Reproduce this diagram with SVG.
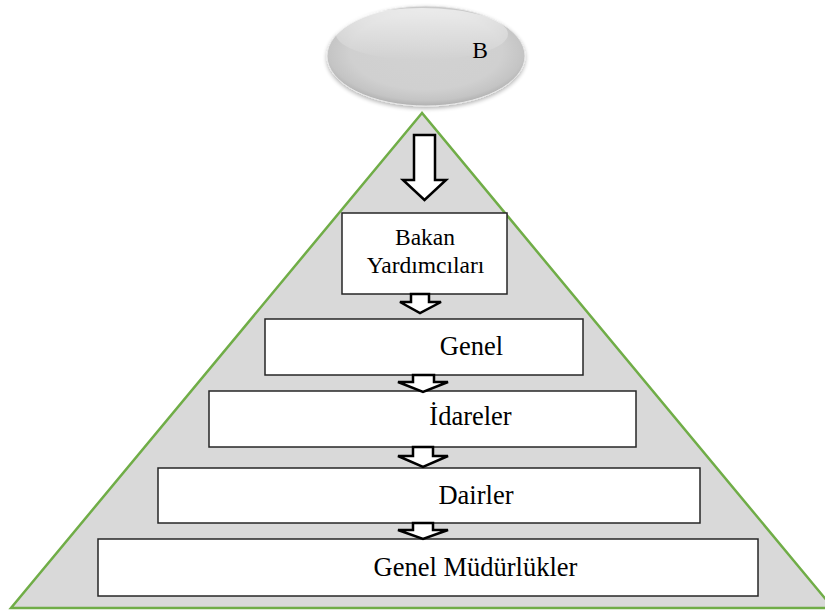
<svg xmlns="http://www.w3.org/2000/svg" width="825" height="613" viewBox="0 0 825 613">
<defs>
<radialGradient id="gEll" cx="0.5" cy="0.45" r="0.55">
<stop offset="0" stop-color="#d2d2d2"/>
<stop offset="0.7" stop-color="#d0d0d0"/>
<stop offset="0.9" stop-color="#c4c4c4"/>
<stop offset="1" stop-color="#b0b0b0"/>
</radialGradient>
<linearGradient id="gHi" x1="0" y1="0" x2="0" y2="1">
<stop offset="0" stop-color="#ffffff" stop-opacity="0.6"/>
<stop offset="1" stop-color="#ffffff" stop-opacity="0"/>
</linearGradient>
<filter id="sh" x="-20%" y="-20%" width="140%" height="150%">
<feGaussianBlur in="SourceAlpha" stdDeviation="2"/>
<feOffset dy="2"/>
<feComponentTransfer><feFuncA type="linear" slope="0.3"/></feComponentTransfer>
<feMerge><feMergeNode/><feMergeNode in="SourceGraphic"/></feMerge>
</filter>
</defs>
<style>
.tri{fill:#d9d9d9;stroke:#70ad47;stroke-width:2.5}
.box{fill:#ffffff;stroke:#262626;stroke-width:1.5}
.arr{fill:#ffffff;stroke:#000000;stroke-width:2.5;stroke-linejoin:miter}
.t{font-family:"Liberation Serif","Times New Roman",serif;fill:#000000;text-anchor:middle}
.s1{font-size:23.5px}
.s2{font-size:26.5px}
</style>
<g id="pyramid">
<polygon class="tri" points="422,113 11,608 833,608"/>
</g>
<g id="node-B">
<ellipse cx="426" cy="56" rx="99" ry="50" fill="url(#gEll)" stroke="#e8e8e8" stroke-width="1" filter="url(#sh)"/>
<ellipse cx="422" cy="34" rx="86" ry="26" fill="url(#gHi)"/>
<text class="t s1" x="480" y="58">B</text>
</g>
<g id="node-bakan">
<rect class="box" x="342" y="213" width="165" height="81"/>
<text class="t s1" x="425" y="245">Bakan</text>
<text class="t s1" x="425.5" y="273">Yardımcıları</text>
</g>
<g id="node-genel">
<rect class="box" x="265" y="319" width="318" height="56"/>
<text class="t s2" x="471.5" y="355">Genel</text>
</g>
<g id="node-idareler">
<rect class="box" x="209" y="391" width="427" height="56"/>
<text class="t s2" x="470.5" y="425">İdareler</text>
</g>
<g id="node-dairler">
<rect class="box" x="158" y="468" width="542" height="55"/>
<text class="t s2" x="476" y="504">Dairler</text>
</g>
<g id="node-gm">
<rect class="box" x="98" y="539" width="660" height="57"/>
<text class="t s2" x="475.5" y="576">Genel Müdürlükler</text>
</g>
<g id="connectors">
<polygon class="arr" points="414,135 435,135 435,180 446,180 424.5,200 403,180 414,180"/>
<polygon class="arr" points="411,294 429,294 429,302 441,302 420,313 400,302 411,302"/>
<polygon class="arr" points="413,375 434,375 434,382 448,382 423,392 398,382 413,382"/>
<polygon class="arr" points="413,447 433,447 433,456 448,456 423,467 398,456 413,456"/>
<polygon class="arr" points="413,523 433,523 433,530 448,530 423,539 398,530 413,530"/>
</g>
</svg>
